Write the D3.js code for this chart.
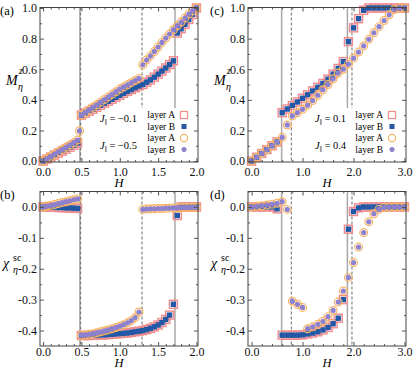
<!DOCTYPE html>
<html>
<head>
<meta charset="utf-8">
<style>
  body { margin: 0; background: #fff; }
  svg text { font-family: "Liberation Serif", "Times New Roman", "DejaVu Serif", serif; }
</style>
</head>
<body>
<svg id="chart" width="415" height="369"></svg>
<script src="https://d3js.org/d3.v7.min.js"></script>
<script>
// ---- data ----
// field grid for panels (a),(b)
var hAB = [0, 0.05, 0.1, 0.15, 0.2, 0.25, 0.3, 0.35, 0.4, 0.45,
  0.5, 0.55, 0.6, 0.65, 0.7, 0.75, 0.8, 0.85, 0.9, 0.95,
  1.0, 1.05, 1.1, 1.15, 1.2, 1.25, 1.3, 1.35, 1.4, 1.45,
  1.5, 1.55, 1.6, 1.65, 1.7, 1.75, 1.8, 1.85, 1.9, 1.95, 2.0];

// (a) magnetisation, J = -0.1 (layer A == layer B)
var mA_j1 = [0, 0.013, 0.026, 0.039, 0.052, 0.065, 0.078, 0.091, 0.104, 0.118,
  0.300, 0.313, 0.326, 0.339, 0.352, 0.365, 0.378, 0.391, 0.404, 0.417,
  0.430, 0.443, 0.455, 0.467, 0.479, 0.490, 0.500, 0.515, 0.530, 0.548,
  0.568, 0.588, 0.608, 0.630, 0.655, 0.836, 0.864, 0.893, 0.925, 0.958, 1.0];
// (a) magnetisation, J = -0.5
var mA_j2 = [0, 0.015, 0.030, 0.045, 0.060, 0.075, 0.090, 0.105, 0.120, 0.137,
  0.300, 0.317, 0.334, 0.351, 0.368, 0.385, 0.402, 0.419, 0.436, 0.453,
  0.470, 0.484, 0.498, 0.512, 0.526, 0.540, 0.629, 0.660, 0.687, 0.716,
  0.745, 0.775, 0.803, 0.830, 0.858, 0.884, 0.908, 0.934, 0.960, 0.982, 1.0];
// extra point right at the jump
var hA_jump = [0.475];
var mA_jump = [0.198];

// (b) chi, J = -0.1
var cB_j1 = [0, 0, -0.001, -0.001, -0.002, -0.002, -0.003, -0.003, -0.004, -0.005,
  -0.416, -0.416, -0.416, -0.415, -0.415, -0.414, -0.414, -0.413, -0.412, -0.411,
  -0.410, -0.409, -0.408, -0.406, -0.404, -0.402, -0.400, -0.397, -0.393, -0.388,
  -0.382, -0.374, -0.364, -0.350, -0.315, -0.028, 0, 0, 0, 0, 0];
// (b) chi, J = -0.5
var cB_j2 = [0, 0.003, 0.005, 0.008, 0.011, 0.014, 0.017, 0.020, 0.023, 0.026,
  -0.415, -0.414, -0.412, -0.410, -0.407, -0.404, -0.401, -0.398, -0.394, -0.390,
  -0.386, -0.381, -0.375, -0.368, -0.358, -0.340, -0.008, -0.007, -0.006, -0.006,
  -0.005, -0.005, -0.004, -0.004, -0.003, -0.003, -0.002, -0.002, -0.001, -0.001, -0.001];

// field grid for panels (c),(d)
var hCD = [0, 0.1, 0.2, 0.3, 0.4, 0.5, 0.6, 0.7, 0.8, 0.9,
  1.0, 1.1, 1.2, 1.3, 1.4, 1.5, 1.6, 1.7, 1.8, 1.9,
  2.0, 2.1, 2.2, 2.3, 2.4, 2.5, 2.6, 2.7, 2.8, 2.9, 3.0];
// (c) magnetisation, J = 0.1
var mC_j1 = [0, 0.025, 0.050, 0.075, 0.100, 0.125, 0.316, 0.340, 0.363, 0.386,
  0.410, 0.433, 0.458, 0.482, 0.507, 0.535, 0.568, 0.605, 0.650, 0.780,
  0.870, 0.930, 0.985, 1, 1, 1, 1, 1, 1, 1, 1];
// (c) magnetisation, J = 0.4
var mC_j2 = [0, 0.025, 0.050, 0.075, 0.100, 0.125, 0.155, 0.236, 0.295, 0.316,
  0.338, 0.365, 0.395, 0.430, 0.466, 0.500, 0.537, 0.575, 0.600, 0.633,
  0.672, 0.712, 0.752, 0.795, 0.838, 0.878, 0.918, 0.955, 0.990, 1.0, 1.0];
// (d) chi, J = 0.1
var cD_j1 = [0, 0, 0, 0, 0, -0.006, -0.415, -0.415, -0.415, -0.415,
  -0.414, -0.411, -0.408, -0.404, -0.398, -0.390, -0.378, -0.360, -0.300, -0.072,
  -0.015, -0.003, 0, 0, 0, 0, 0, 0, 0, 0, 0];
// (d) chi, J = 0.4
var cD_j2 = [0, 0.002, 0.004, 0.006, 0.009, 0.012, 0.017, -0.008, -0.305, -0.315,
  -0.325, -0.394, -0.388, -0.380, -0.370, -0.355, -0.335, -0.308, -0.272, -0.228,
  -0.180, -0.130, -0.083, -0.048, -0.022, -0.008, -0.002, 0, 0, 0, 0];

// critical fields (solid = first coupling, dashed = second)
var solidAB = [0.48, 1.72];
var dashAB = [0.49, 1.29];
var solidCD = [0.59, 1.88];
var dashCD = [0.78, 1.97];

var legendNames = ["layer A", "layer B", "layer A", "layer B"];

// ---- drawing ----
var svg = d3.select("#chart");
var serif = '"Liberation Serif", "Times New Roman", serif';

var col = {
  sqA: "#f08a8c", sqB: "#2358a6",
  ciA: "#f7b465", ciB: "#8d80cc"
};

function zip(h, v) { return h.map(function(d, i) { return [d, v[i]]; }); }

function panel(o) {
  var x = d3.scaleLinear().domain(o.xd).range([o.left, o.right]);
  var y = d3.scaleLinear().domain(o.yd).range([o.bottom, o.top]);
  var g = svg.append("g").style("font-family", serif);

  // vertical transition lines
  g.selectAll(".vs").data(o.solid).enter().append("line")
    .attr("x1", x).attr("x2", x)
    .attr("y1", o.top).attr("y2", o.bottom)
    .attr("stroke", "#a8a8a8").attr("stroke-width", 1.5);
  g.selectAll(".vd").data(o.dash).enter().append("line")
    .attr("x1", x).attr("x2", x)
    .attr("y1", o.top).attr("y2", o.bottom)
    .attr("stroke", "#6a6a6a").attr("stroke-width", 1)
    .attr("stroke-dasharray", "3,2");

  // legend background hides the lines beneath it
  if (o.legend) {
    g.append("rect")
      .attr("x", o.legend.x0).attr("y", o.legend.y0)
      .attr("width", o.right - o.legend.x0 - 1)
      .attr("height", o.bottom - o.legend.y0 - 1)
      .attr("fill", "#fff");
  }

  function squares(data) {
    g.append("g").selectAll("rect").data(data).enter().append("rect")
      .attr("x", function(d) { return x(d[0]) - 4; })
      .attr("y", function(d) { return y(d[1]) - 4; })
      .attr("width", 8).attr("height", 8)
      .attr("fill", "none").attr("stroke", col.sqA).attr("stroke-width", 1.4);
    g.append("g").selectAll("rect").data(data).enter().append("rect")
      .attr("x", function(d) { return x(d[0]) - 2.7; })
      .attr("y", function(d) { return y(d[1]) - 2.7; })
      .attr("width", 5.4).attr("height", 5.4)
      .attr("fill", col.sqB);
  }
  function circles(data) {
    g.append("g").selectAll("circle").data(data).enter().append("circle")
      .attr("cx", function(d) { return x(d[0]); })
      .attr("cy", function(d) { return y(d[1]); })
      .attr("r", 3.9)
      .attr("fill", "none").attr("stroke", col.ciA).attr("stroke-width", 1.2);
    g.append("g").selectAll("circle").data(data).enter().append("circle")
      .attr("cx", function(d) { return x(d[0]); })
      .attr("cy", function(d) { return y(d[1]); })
      .attr("r", 2.6)
      .attr("fill", col.ciB);
  }
  squares(o.s1);
  circles(o.s2);

  // frame + ticks (inward, on all four sides)
  function ticks(axisFn, scale, vals, len, pos, fmt, pad) {
    var a = axisFn(scale).tickValues(vals).tickSize(-len)
      .tickPadding(pad || 3)
      .tickFormat(fmt || "");
    var gg = g.append("g").attr("transform", pos).call(a)
      .attr("font-family", null).attr("font-size", null);
    gg.select(".domain").remove();
    gg.selectAll("line").attr("stroke", "#555");
    gg.selectAll("text").style("font-family", serif)
      .attr("font-size", 12).attr("fill", "#111");
    return gg;
  }
  var bx = "translate(0," + o.bottom + ")", tx = "translate(0," + o.top + ")";
  var ly = "translate(" + o.left + ",0)", ry = "translate(" + o.right + ",0)";
  ticks(d3.axisBottom, x, o.xt, 4, bx, d3.format(".1f"), o.xpad);
  ticks(d3.axisBottom, x, o.xm, 2, bx);
  ticks(d3.axisTop, x, o.xt, 4, tx);
  ticks(d3.axisTop, x, o.xm, 2, tx);
  ticks(d3.axisLeft, y, o.yt, 4, ly, function(d) {
    return d3.format(".1f")(d).replace("\u2212", "-");
  }, 3);
  ticks(d3.axisLeft, y, o.ym, 2, ly);
  ticks(d3.axisRight, y, o.yt, 4, ry);
  ticks(d3.axisRight, y, o.ym, 2, ry);

  g.append("rect")
    .attr("x", o.left).attr("y", o.top)
    .attr("width", o.right - o.left).attr("height", o.bottom - o.top)
    .attr("fill", "none").attr("stroke", "#444").attr("stroke-width", 1);

  // x label
  g.append("text")
    .attr("x", (o.left + o.right) / 2).attr("y", o.hy)
    .attr("text-anchor", "middle")
    .attr("font-size", 12.5).attr("font-style", "italic")
    .text("H");

  // panel tag
  g.append("text")
    .attr("x", o.tagX).attr("y", o.top + 7)
    .attr("font-size", 12.5)
    .text(o.tag);

  // y label
  var lx = o.left - 34;
  if (o.kind === "m") {
    var yl = (o.top + o.bottom) / 2;
    g.append("text").attr("x", lx).attr("y", yl)
      .attr("font-size", 14).attr("font-style", "italic").text("M");
    g.append("text").attr("x", lx + 12).attr("y", yl + 5)
      .attr("font-size", 10).attr("font-style", "italic").text("η");
    g.append("text").attr("x", lx + 13).attr("y", yl - 11)
      .attr("font-size", 10).attr("font-style", "italic").text("z");
  } else {
    var yc = o.top + 76;
    g.append("text").attr("x", lx - 3).attr("y", yc)
      .attr("font-size", 14).attr("font-style", "italic").text("χ");
    g.append("text").attr("x", lx + 7).attr("y", yc + 5)
      .attr("font-size", 10).attr("font-style", "italic").text("η");
    g.append("text").attr("x", lx + 7).attr("y", yc - 7)
      .attr("font-size", 10).text("sc");
  }

  // legend
  if (o.legend) {
    var L = o.legend;
    var rows = g.append("g").selectAll("g").data(legendNames).enter().append("g")
      .attr("transform", function(d, i) { return "translate(0," + L.rows[i] + ")"; });
    rows.append("text")
      .attr("x", L.tx).attr("dy", "0.32em")
      .attr("text-anchor", "end")
      .attr("font-size", 9.5)
      .text(function(d) { return d; });
    rows.each(function(d, i) {
      var r = d3.select(this);
      if (i === 0) r.append("rect").attr("x", L.mx - 3.5).attr("y", -3.5)
        .attr("width", 7).attr("height", 7).attr("fill", "none")
        .attr("stroke", col.sqA).attr("stroke-width", 1.2);
      if (i === 1) r.append("rect").attr("x", L.mx - 2.5).attr("y", -2.5)
        .attr("width", 5).attr("height", 5).attr("fill", col.sqB);
      if (i === 2) r.append("circle").attr("cx", L.mx).attr("r", 3.6)
        .attr("fill", "none").attr("stroke", col.ciA).attr("stroke-width", 1.1);
      if (i === 3) r.append("circle").attr("cx", L.mx).attr("r", 2.5)
        .attr("fill", col.ciB);
    });
    L.j.forEach(function(jv, i) {
      var t = g.append("text").attr("x", L.jx).attr("y", L.jy[i])
        .attr("font-size", 10.5);
      t.append("tspan").attr("font-style", "italic").text("J");
      t.append("tspan").attr("font-size", 7.5).attr("dy", 3).text("‖");
      t.append("tspan").attr("dy", -3).text(" = " + jv);
    });
  }
}

var topY = 7.5, botTop = 191.5;
var minorAB = [0.1, 0.2, 0.3, 0.4, 0.6, 0.7, 0.8, 0.9, 1.1, 1.2, 1.3, 1.4, 1.6, 1.7, 1.8, 1.9];
var minorCD = [0.2, 0.4, 0.6, 0.8, 1.2, 1.4, 1.6, 1.8, 2.2, 2.4, 2.6, 2.8];
panel({
  tag: "(a)", tagX: 0, kind: "m",
  left: 40, right: 198, top: topY, bottom: 162, xpad: 5, hy: 187,
  xd: [-0.04, 2.02], yd: [-0.006, 1.003],
  xt: [0, 0.5, 1.0, 1.5, 2.0], xm: minorAB,
  yt: [0, 0.2, 0.4, 0.6, 0.8, 1.0], ym: [0.1, 0.3, 0.5, 0.7, 0.9],
  solid: solidAB, dash: dashAB,
  s1: zip(hAB, mA_j1), s2: zip(hAB, mA_j2).concat(zip(hA_jump, mA_jump)),
  legend: { x0: 96, y0: 108, tx: 175, mx: 184, rows: [115, 126.5, 138, 149.5],
    jx: 100, jy: [122, 149], j: ["\u22120.1", "\u22120.5"] }
});
panel({
  tag: "(b)", tagX: 0, kind: "c",
  left: 40, right: 198, top: botTop, bottom: 346, xpad: 1.5, hy: 367.2,
  xd: [-0.04, 2.02], yd: [-0.45, 0.05],
  xt: [0, 0.5, 1.0, 1.5, 2.0], xm: minorAB,
  yt: [0, -0.1, -0.2, -0.3, -0.4], ym: [0.05, -0.05, -0.15, -0.25, -0.35],
  solid: solidAB, dash: dashAB,
  s1: zip(hAB, cB_j1), s2: zip(hAB, cB_j2)
});
panel({
  tag: "(c)", tagX: 210, kind: "m",
  left: 248, right: 406, top: topY, bottom: 162, xpad: 5, hy: 187,
  xd: [-0.07, 3.03], yd: [-0.006, 1.003],
  xt: [0, 1.0, 2.0, 3.0], xm: minorCD,
  yt: [0, 0.2, 0.4, 0.6, 0.8, 1.0], ym: [0.1, 0.3, 0.5, 0.7, 0.9],
  solid: solidCD, dash: dashCD,
  s1: zip(hCD, mC_j1), s2: zip(hCD, mC_j2),
  legend: { x0: 313, y0: 108, tx: 383, mx: 392, rows: [115, 126.5, 138, 149.5],
    jx: 315, jy: [122, 149], j: ["0.1", "0.4"] }
});
panel({
  tag: "(d)", tagX: 210, kind: "c",
  left: 248, right: 406, top: botTop, bottom: 346, xpad: 1.5, hy: 367.2,
  xd: [-0.07, 3.03], yd: [-0.45, 0.05],
  xt: [0, 1.0, 2.0, 3.0], xm: minorCD,
  yt: [0, -0.1, -0.2, -0.3, -0.4], ym: [0.05, -0.05, -0.15, -0.25, -0.35],
  solid: solidCD, dash: dashCD,
  s1: zip(hCD, cD_j1), s2: zip(hCD, cD_j2)
});
</script>
</body>
</html>
